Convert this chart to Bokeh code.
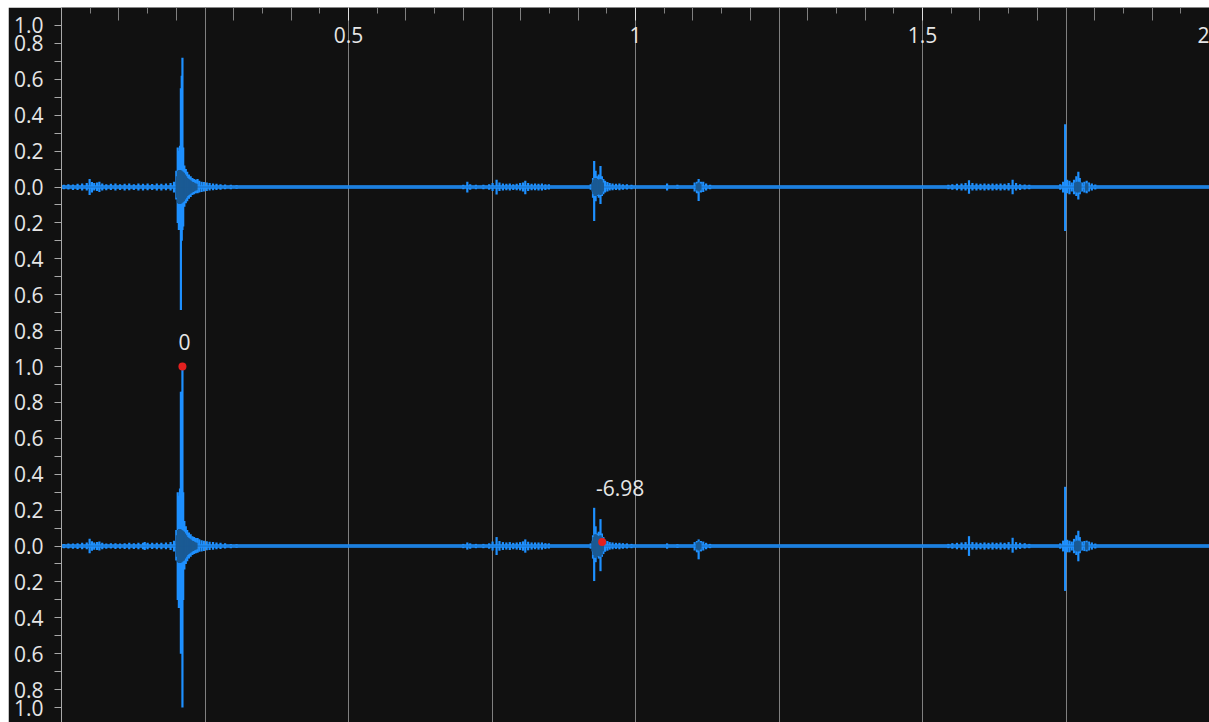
from bokeh.plotting import figure
from bokeh.models import (Range1d, FixedTicker, LinearAxis, CustomJSTickFormatter,
                          ColumnDataSource, Spacer, Grid)
from bokeh.layouts import column, row
from bokeh.core.properties import value
from bokeh.embed import file_html
from bokeh.resources import INLINE
import numpy as np

# ---------------------------------------------------------------------------
# Waveform data (seconds, normalised amplitude). Each channel is stored as a
# peak envelope: sample time, positive peak, negative peak.
# ---------------------------------------------------------------------------
duration = 2.0

ch1_t = [0.004, 0.012, 0.020, 0.028, 0.036, 0.044, 0.049, 0.053, 0.057, 0.062,
         0.066, 0.071, 0.078, 0.086, 0.094, 0.102, 0.110, 0.118, 0.126, 0.134,
         0.142, 0.150, 0.158, 0.166, 0.174, 0.182, 0.190, 0.196,
         0.200, 0.2025, 0.2045, 0.2065, 0.208, 0.2095, 0.2107, 0.212, 0.214, 0.2165,
         0.219, 0.222, 0.225, 0.228, 0.231, 0.234, 0.237, 0.240, 0.244, 0.248,
         0.253, 0.258, 0.264, 0.270, 0.277, 0.285, 0.295, 0.305,
         0.700, 0.707, 0.712, 0.722, 0.735, 0.745, 0.751, 0.758, 0.763, 0.769,
         0.775, 0.781, 0.787, 0.793, 0.799, 0.804, 0.808, 0.813, 0.819, 0.825,
         0.831, 0.837, 0.843, 0.849,
         0.922, 0.926, 0.928, 0.9305, 0.933, 0.936, 0.939, 0.9415, 0.944, 0.947,
         0.951, 0.955, 0.960, 0.966, 0.972, 0.978, 0.985, 0.993,
         1.055, 1.073, 1.103, 1.107, 1.110, 1.114, 1.118, 1.123, 1.130,
         1.545, 1.552, 1.560, 1.568, 1.575, 1.581, 1.587, 1.594, 1.601, 1.608,
         1.615, 1.622, 1.629, 1.636, 1.643, 1.650, 1.657, 1.663, 1.670, 1.678, 1.686,
         1.740, 1.745, 1.7485, 1.752, 1.756, 1.760, 1.764, 1.768, 1.7715, 1.774,
         1.778, 1.782, 1.786, 1.790, 1.795, 1.801]
ch1_hi = [0.012, 0.016, 0.014, 0.018, 0.020, 0.022, 0.045, 0.028, 0.022, 0.025,
          0.030, 0.020, 0.016, 0.018, 0.020, 0.015, 0.018, 0.020, 0.016, 0.020,
          0.018, 0.020, 0.017, 0.020, 0.018, 0.020, 0.022, 0.030,
          0.090, 0.220, 0.200, 0.230, 0.550, 0.620, 0.720, 0.220, 0.120, 0.100,
          0.085, 0.070, 0.060, 0.050, 0.045, 0.040, 0.045, 0.035, 0.030, 0.028,
          0.025, 0.022, 0.020, 0.018, 0.016, 0.014, 0.012, 0.010,
          0.012, 0.030, 0.015, 0.012, 0.012, 0.015, 0.022, 0.040, 0.025, 0.020,
          0.018, 0.020, 0.016, 0.018, 0.022, 0.025, 0.035, 0.022, 0.018, 0.020,
          0.018, 0.020, 0.016, 0.015,
          0.015, 0.050, 0.145, 0.090, 0.060, 0.070, 0.117, 0.060, 0.045, 0.035,
          0.028, 0.022, 0.020, 0.018, 0.020, 0.016, 0.015, 0.012,
          0.020, 0.012, 0.025, 0.030, 0.045, 0.030, 0.030, 0.020, 0.012,
          0.012, 0.016, 0.018, 0.020, 0.022, 0.037, 0.022, 0.020, 0.018, 0.020,
          0.018, 0.020, 0.018, 0.020, 0.018, 0.022, 0.040, 0.022, 0.016, 0.014, 0.012,
          0.015, 0.030, 0.350, 0.040, 0.035, 0.025, 0.040, 0.060, 0.085, 0.050,
          0.025, 0.030, 0.035, 0.025, 0.020, 0.014]
ch1_lo = [-0.012, -0.014, -0.016, -0.016, -0.020, -0.020, -0.045, -0.030, -0.020, -0.022,
          -0.028, -0.020, -0.018, -0.016, -0.020, -0.017, -0.020, -0.018, -0.016, -0.020,
          -0.020, -0.018, -0.016, -0.020, -0.020, -0.018, -0.020, -0.030,
          -0.070, -0.200, -0.240, -0.220, -0.685, -0.300, -0.240, -0.220, -0.110, -0.090,
          -0.080, -0.065, -0.055, -0.045, -0.040, -0.035, -0.035, -0.030, -0.028, -0.025,
          -0.022, -0.020, -0.018, -0.016, -0.015, -0.013, -0.012, -0.010,
          -0.012, -0.030, -0.015, -0.012, -0.012, -0.015, -0.022, -0.042, -0.022, -0.020,
          -0.018, -0.020, -0.016, -0.018, -0.020, -0.025, -0.040, -0.022, -0.018, -0.018,
          -0.020, -0.020, -0.016, -0.014,
          -0.015, -0.060, -0.190, -0.080, -0.050, -0.060, -0.095, -0.050, -0.040, -0.030,
          -0.025, -0.020, -0.018, -0.016, -0.018, -0.015, -0.014, -0.012,
          -0.020, -0.010, -0.025, -0.035, -0.078, -0.030, -0.028, -0.020, -0.012,
          -0.012, -0.015, -0.018, -0.020, -0.020, -0.037, -0.020, -0.020, -0.018, -0.020,
          -0.018, -0.020, -0.018, -0.020, -0.018, -0.020, -0.040, -0.020, -0.016, -0.014, -0.012,
          -0.015, -0.030, -0.245, -0.035, -0.040, -0.025, -0.040, -0.050, -0.070, -0.040,
          -0.025, -0.030, -0.035, -0.025, -0.020, -0.014]

ch2_t = [0.004, 0.012, 0.020, 0.028, 0.036, 0.044, 0.049, 0.053, 0.057, 0.062,
         0.066, 0.071, 0.078, 0.086, 0.094, 0.102, 0.110, 0.118, 0.126, 0.134,
         0.142, 0.145, 0.150, 0.158, 0.166, 0.174, 0.182, 0.190, 0.196,
         0.200, 0.2025, 0.2045, 0.2065, 0.208, 0.2095, 0.2107, 0.212, 0.214, 0.2165,
         0.219, 0.222, 0.225, 0.228, 0.231, 0.234, 0.237, 0.240, 0.244, 0.248,
         0.253, 0.258, 0.264, 0.270, 0.277, 0.285, 0.295, 0.305,
         0.700, 0.707, 0.712, 0.722, 0.735, 0.745, 0.751, 0.758, 0.763, 0.769,
         0.775, 0.781, 0.787, 0.793, 0.799, 0.804, 0.808, 0.813, 0.819, 0.825,
         0.831, 0.837, 0.843, 0.849,
         0.922, 0.926, 0.928, 0.9305, 0.933, 0.936, 0.939, 0.9415, 0.944, 0.947,
         0.951, 0.955, 0.960, 0.966, 0.972, 0.978, 0.985, 0.993,
         1.055, 1.073, 1.103, 1.107, 1.110, 1.114, 1.118, 1.123, 1.130,
         1.545, 1.552, 1.560, 1.568, 1.575, 1.581, 1.587, 1.594, 1.601, 1.608,
         1.615, 1.622, 1.629, 1.636, 1.643, 1.650, 1.657, 1.663, 1.670, 1.678, 1.686,
         1.740, 1.745, 1.7485, 1.752, 1.756, 1.760, 1.764, 1.768, 1.7715, 1.774,
         1.778, 1.782, 1.786, 1.790, 1.795, 1.801]
ch2_hi = [0.012, 0.014, 0.014, 0.016, 0.018, 0.020, 0.040, 0.026, 0.020, 0.022,
          0.025, 0.018, 0.014, 0.015, 0.016, 0.014, 0.016, 0.018, 0.016, 0.018,
          0.018, 0.022, 0.018, 0.018, 0.018, 0.018, 0.020, 0.022, 0.030,
          0.090, 0.300, 0.280, 0.320, 0.860, 0.860, 1.000, 0.300, 0.140, 0.110,
          0.090, 0.075, 0.065, 0.055, 0.050, 0.045, 0.045, 0.038, 0.032, 0.030,
          0.026, 0.024, 0.022, 0.020, 0.018, 0.015, 0.012, 0.010,
          0.012, 0.020, 0.015, 0.012, 0.012, 0.015, 0.025, 0.050, 0.028, 0.022,
          0.020, 0.022, 0.018, 0.020, 0.022, 0.026, 0.037, 0.024, 0.020, 0.020,
          0.020, 0.020, 0.016, 0.015,
          0.015, 0.060, 0.213, 0.110, 0.070, 0.080, 0.150, 0.070, 0.050, 0.035,
          0.028, 0.022, 0.020, 0.018, 0.018, 0.016, 0.015, 0.012,
          0.015, 0.010, 0.022, 0.028, 0.037, 0.028, 0.025, 0.018, 0.012,
          0.012, 0.016, 0.018, 0.020, 0.022, 0.055, 0.022, 0.020, 0.018, 0.020,
          0.018, 0.020, 0.018, 0.020, 0.018, 0.022, 0.046, 0.022, 0.018, 0.016, 0.012,
          0.015, 0.030, 0.330, 0.035, 0.030, 0.025, 0.040, 0.060, 0.085, 0.050,
          0.025, 0.028, 0.030, 0.025, 0.020, 0.014]
ch2_lo = [-0.012, -0.014, -0.015, -0.016, -0.018, -0.018, -0.040, -0.026, -0.020, -0.022,
          -0.025, -0.018, -0.015, -0.014, -0.016, -0.015, -0.016, -0.018, -0.016, -0.018,
          -0.018, -0.022, -0.018, -0.016, -0.018, -0.018, -0.018, -0.022, -0.030,
          -0.080, -0.300, -0.345, -0.330, -0.600, -0.400, -0.900, -0.300, -0.130, -0.100,
          -0.085, -0.070, -0.060, -0.050, -0.045, -0.040, -0.038, -0.032, -0.030, -0.027,
          -0.024, -0.022, -0.020, -0.018, -0.016, -0.014, -0.012, -0.010,
          -0.012, -0.020, -0.015, -0.012, -0.012, -0.015, -0.025, -0.050, -0.026, -0.022,
          -0.020, -0.022, -0.018, -0.020, -0.022, -0.026, -0.037, -0.024, -0.020, -0.018,
          -0.020, -0.020, -0.016, -0.014,
          -0.015, -0.070, -0.195, -0.090, -0.060, -0.070, -0.140, -0.060, -0.045, -0.032,
          -0.026, -0.020, -0.018, -0.016, -0.018, -0.015, -0.014, -0.012,
          -0.015, -0.010, -0.025, -0.035, -0.074, -0.030, -0.025, -0.018, -0.012,
          -0.012, -0.015, -0.018, -0.020, -0.020, -0.055, -0.020, -0.020, -0.018, -0.020,
          -0.018, -0.020, -0.018, -0.020, -0.018, -0.020, -0.037, -0.020, -0.016, -0.014, -0.012,
          -0.015, -0.030, -0.250, -0.035, -0.035, -0.025, -0.040, -0.050, -0.085, -0.040,
          -0.025, -0.028, -0.030, -0.025, -0.020, -0.014]

# RMS envelope (symmetric) of the louder passages
ch1_rms_t = [0.2010, 0.2030, 0.2050, 0.2070, 0.2090, 0.2110, 0.2130, 0.2150, 0.2170,
             0.2190, 0.2210, 0.2230, 0.2250, 0.2270, 0.2290, 0.2310, 0.2330, 0.2350,
             0.9250, 0.9270, 0.9290, 0.9310, 0.9330, 0.9350, 0.9370, 0.9390, 0.9410, 0.9430,
             1.1070, 1.1100, 1.1130,
             1.7660, 1.7690, 1.7720, 1.7750, 1.7850, 1.7870]
ch1_rms = [0.060, 0.090, 0.095, 0.095, 0.090, 0.085, 0.080, 0.070, 0.060,
           0.050, 0.045, 0.040, 0.035, 0.030, 0.028, 0.024, 0.020, 0.018,
           0.025, 0.040, 0.050, 0.050, 0.045, 0.040, 0.040, 0.045, 0.040, 0.025,
           0.020, 0.025, 0.020,
           0.025, 0.030, 0.030, 0.025, 0.020, 0.020]
ch2_rms_t = ch1_rms_t
ch2_rms = [0.060, 0.090, 0.095, 0.095, 0.090, 0.085, 0.080, 0.070, 0.060,
           0.050, 0.045, 0.040, 0.035, 0.030, 0.028, 0.024, 0.020, 0.018,
           0.030, 0.050, 0.065, 0.065, 0.060, 0.055, 0.055, 0.060, 0.050, 0.030,
           0.020, 0.025, 0.020,
           0.025, 0.030, 0.030, 0.025, 0.020, 0.020]

# Measurement markers on channel 2
marker_t = [0.2107, 0.9419]
marker_v = [1.0, 0.022]
marker_text = ["0", "-6.98"]

# Ruler tick values
time_labels = [0.5, 1.0, 1.5, 2.0]
time_tenths = [round(k / 10, 1) for k in range(1, 20) if k % 5]
time_twentieths = [round(k / 20, 2) for k in range(1, 40, 2)]

# ---------------------------------------------------------------------------
# Styling
# ---------------------------------------------------------------------------
BG = "#111111"
PEAK = "#1e90ff"
RMS = "#1a5a94"
GRID = "#808080"
TEXT = "#e6e6e6"
FONT = "Open Sans"
FONT_SIZE = "21px"
marker_dx = [2, 18]
marker_dy = [-25, -54]

ch_offsets = (1.0, -1.0)   # vertical centre of each channel on the shared axis

p = figure(width=1201, height=715, output_backend="svg", toolbar_location=None,
           x_range=Range1d(0, duration), y_range=Range1d(-1.983, 2.0),
           x_axis_location=None, y_axis_location="left",
           background_fill_color=BG, border_fill_color=BG,
           min_border_left=53, min_border_right=0, min_border_top=0, min_border_bottom=0)
p.outline_line_color = None
p.ygrid.visible = False
p.xgrid.visible = False

# vertical grid every 0.25 s
grid_ticker = FixedTicker(ticks=[0.25 * k for k in range(1, 8)])
p.add_layout(Grid(dimension=0, ticker=grid_ticker, grid_line_color=GRID, grid_line_width=1))

# channel traces
for off, t, hi, lo, rt, rv in ((ch_offsets[0], ch1_t, ch1_hi, ch1_lo, ch1_rms_t, ch1_rms),
                               (ch_offsets[1], ch2_t, ch2_hi, ch2_lo, ch2_rms_t, ch2_rms)):
    p.segment(x0=0, y0=off, x1=duration, y1=off, line_color=PEAK, line_width=3.5)
    src = ColumnDataSource(dict(t=t, top=np.array(hi) + off, bot=np.array(lo) + off))
    p.segment(x0="t", y0="bot", x1="t", y1="top", source=src,
              line_color=PEAK, line_width=2.2)
    rsrc = ColumnDataSource(dict(t=rt, top=np.array(rv) + off, bot=-np.array(rv) + off))
    p.segment(x0="t", y0="bot", x1="t", y1="top", source=rsrc,
              line_color=RMS, line_width=2.4)
    p.segment(x0=0, y0=off, x1=duration, y1=off, line_color=RMS, line_width=1, line_alpha=0.6)

# markers
msrc = ColumnDataSource(dict(t=marker_t, y=np.array(marker_v) + ch_offsets[1],
                             text=marker_text, dx=marker_dx, dy=marker_dy))
p.scatter(x="t", y="y", source=msrc, size=8, fill_color="#e3201f", line_color=None)
p.text(x="t", y="y", text="text", source=msrc, x_offset="dx", y_offset="dy",
       text_align="center", text_baseline="middle", text_color=TEXT,
       text_font=value(FONT), text_font_size=FONT_SIZE)

# left amplitude axis: each channel labelled 1.0 .. 0.0 .. 1.0
all_tenths = [round(k / 10, 1) for k in range(-19, 20)]
labelled = [y for y in all_tenths
            if abs(round(y * 10)) == 19 or (abs(round(y * 10)) - 10) % 2 == 0]
unlabelled = [y for y in all_tenths if y not in labelled]

yaxis = p.yaxis[0]
yaxis.ticker = FixedTicker(ticks=labelled, minor_ticks=unlabelled)
yaxis.formatter = CustomJSTickFormatter(code="""
    const k = Math.round(tick * 10);
    if (Math.abs(k) == 19) return "1.0";
    const v = Math.abs(k >= 0 ? k - 10 : k + 10);
    return (v / 10).toFixed(1);
""")
yaxis.axis_line_color = "#a8a8a8"
yaxis.major_tick_line_color = "#a8a8a8"
yaxis.minor_tick_line_color = "#a8a8a8"
yaxis.major_tick_out = 7
yaxis.major_tick_in = 0
yaxis.minor_tick_out = 7
yaxis.minor_tick_in = 0
yaxis.major_label_standoff = 11
yaxis.major_label_text_color = TEXT
yaxis.major_label_text_font = FONT
yaxis.major_label_text_font_size = FONT_SIZE

# time ruler along the top, ticks pointing into the plot
fine_axis = LinearAxis(
    ticker=FixedTicker(ticks=[], minor_ticks=time_twentieths),
    axis_line_color=None, major_tick_line_color=None, minor_tick_line_color=GRID,
    minor_tick_in=6, minor_tick_out=0, major_label_standoff=0)
p.add_layout(fine_axis, "above")

time_axis = LinearAxis(
    ticker=FixedTicker(ticks=time_labels, minor_ticks=time_tenths),
    formatter=CustomJSTickFormatter(code="return String(tick);"),
    axis_line_color=None, major_tick_line_color="#e0e0e0",
    major_tick_in=13, major_tick_out=0,
    minor_tick_line_color=GRID, minor_tick_in=13, minor_tick_out=0,
    major_label_standoff=-35, major_label_text_baseline="middle",
    major_label_text_color=TEXT, major_label_text_font=FONT,
    major_label_text_font_size=FONT_SIZE)
p.add_layout(time_axis, "above")

page = column(Spacer(height=7), row(Spacer(width=8), p))
open("out.html", "w").write(file_html(page, INLINE))
